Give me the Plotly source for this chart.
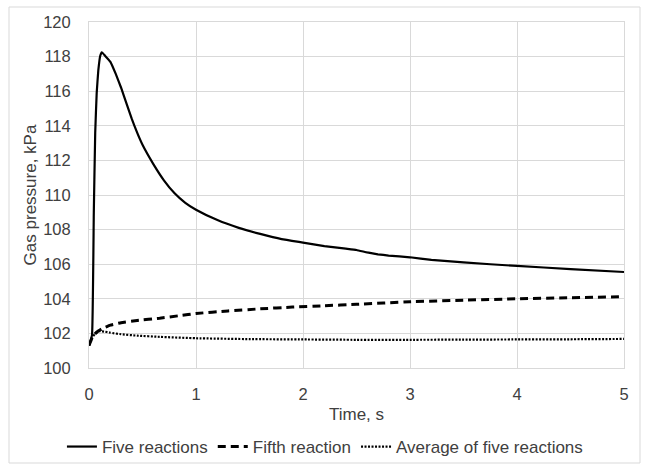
import plotly.graph_objects as go

five_t = [0, 0.028, 0.045, 0.058, 0.072, 0.087, 0.105, 0.12, 0.15, 0.2, 0.25, 0.3, 0.35, 0.4, 0.45, 0.5, 0.6, 0.7,
          0.8, 0.9, 1.0, 1.2, 1.4, 1.6, 1.8, 2.0, 2.2, 2.4, 2.5, 2.6, 2.7, 2.8, 3.0, 3.2, 3.5, 4.0, 4.5, 5.0]
five_p = [101.3, 101.9, 109.0, 113.6, 115.9, 117.2, 118.05, 118.25, 118.05, 117.7, 117.0, 116.2, 115.3, 114.4,
          113.6, 112.9, 111.8, 110.85, 110.1, 109.55, 109.15, 108.55, 108.1, 107.75, 107.45, 107.25, 107.05, 106.9,
          106.82, 106.68, 106.57, 106.5, 106.4, 106.25, 106.1, 105.9, 105.72, 105.55]

fifth_t = [0, 0.03, 0.06, 0.09, 0.13, 0.2, 0.3, 0.45, 0.66, 0.85, 1.0, 1.3, 1.6, 1.9, 2.2, 2.5, 3.0, 3.5, 4.0, 4.5, 5.0]
fifth_p = [101.3, 101.75, 102.0, 102.15, 102.3, 102.48, 102.62, 102.75, 102.88, 103.03, 103.15, 103.3, 103.42,
           103.52, 103.6, 103.68, 103.83, 103.92, 104.0, 104.06, 104.12]

avg_t = [0, 0.03, 0.06, 0.1, 0.15, 0.2, 0.3, 0.45, 0.66, 1.0, 1.5, 2.0, 2.5, 3.0, 3.5, 4.0, 4.5, 5.0]
avg_p = [101.3, 101.75, 102.0, 102.13, 102.1, 102.04, 101.95, 101.87, 101.8, 101.72, 101.67, 101.65, 101.63,
         101.63, 101.64, 101.65, 101.66, 101.68]

x_ticks = [0, 1, 2, 3, 4, 5]
y_ticks = [100, 102, 104, 106, 108, 110, 112, 114, 116, 118, 120]

font = dict(family="Liberation Sans, Arial, sans-serif", size=17, color="#404040")
tick_font = dict(family="Liberation Sans, Arial, sans-serif", size=16.5, color="#404040")

fig = go.Figure()
fig.add_trace(go.Scatter(x=five_t, y=five_p, mode="lines", name="Five reactions",
                         line=dict(color="black", width=2.2, dash="solid", shape="spline", smoothing=0.3)))
fig.add_trace(go.Scatter(x=fifth_t, y=fifth_p, mode="lines", name="Fifth reaction",
                         line=dict(color="black", width=3, dash="8px,5px", shape="spline", smoothing=0.3)))
fig.add_trace(go.Scatter(x=avg_t, y=avg_p, mode="lines", name="Average of five reactions",
                         line=dict(color="black", width=2.2, dash="2px,1.5px", shape="spline", smoothing=0.3)))

grid = "#d9d9d9"
fig.update_layout(
    width=646, height=464,
    margin=dict(l=89, r=22, t=22, b=96),
    paper_bgcolor="white", plot_bgcolor="white",
    font=font,
    showlegend=True,
    legend=dict(orientation="h", x=0.441, xanchor="center", yref="container", y=1 - 447 / 464, yanchor="middle",
                font=font, bgcolor="rgba(0,0,0,0)", itemwidth=30, tracegroupgap=0),
    xaxis=dict(range=[0, 5], tickvals=x_ticks, showgrid=True, gridcolor=grid, gridwidth=1,
               showline=True, linecolor=grid, linewidth=1, mirror=True, zeroline=False,
               ticks="outside", ticklen=11, tickcolor="rgba(0,0,0,0)", tickfont=tick_font,
               automargin=False,
               title=dict(text="Time, s", font=font, standoff=6)),
    yaxis=dict(range=[100, 120], tickvals=y_ticks, showgrid=True, gridcolor=grid, gridwidth=1,
               showline=True, linecolor=grid, linewidth=1, mirror=True, zeroline=False,
               ticks="outside", ticklen=14, tickcolor="rgba(0,0,0,0)", tickfont=tick_font,
               automargin=False,
               title=dict(text="Gas pressure, kPa", font=font, standoff=2)),
    shapes=[dict(type="rect", xref="paper", yref="paper",
                 x0=(9 - 89) / 535, x1=(640 - 89) / 535, y0=(368 - 463) / 346, y1=(368 - 7) / 346,
                 line=dict(color="#d9d9d9", width=1), fillcolor="rgba(0,0,0,0)", layer="below")],
)

fig.write_html("out.html", config={"displayModeBar": False},
               post_script="document.body.style.margin='0px';document.body.style.overflow='hidden';")
